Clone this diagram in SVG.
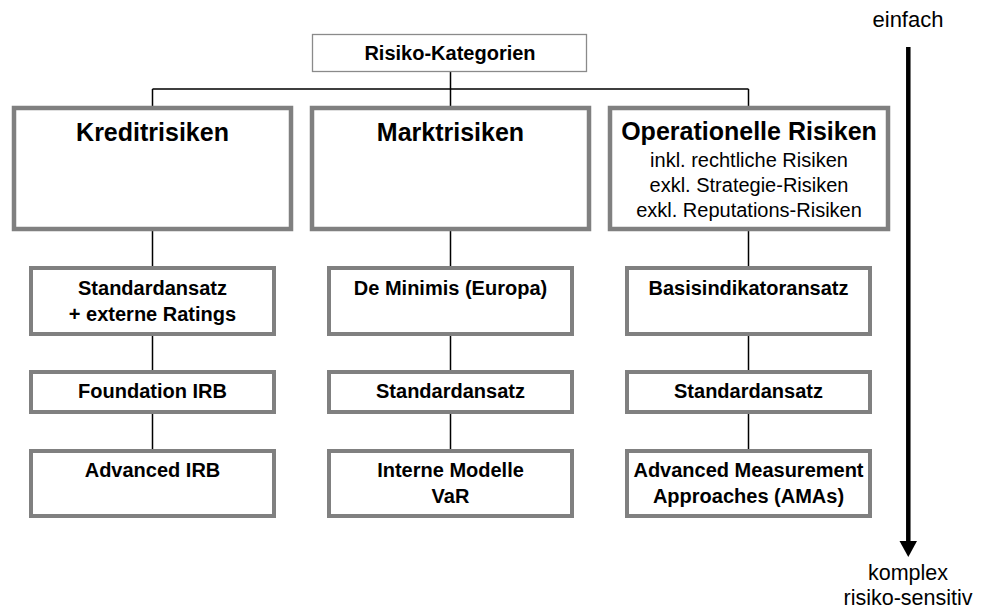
<svg xmlns="http://www.w3.org/2000/svg" width="984" height="610" viewBox="0 0 984 610">
<style>
text { font-family: "Liberation Sans", Arial, sans-serif; fill: #000; text-anchor: middle; }
.t1 { font-size: 25px; font-weight: bold; }
.t2 { font-size: 20px; font-weight: bold; }
.sub { font-size: 20px; }
.lab { font-size: 22px; }
.lab2 { font-size: 21.5px; }
.big { fill: #fff; stroke: #808080; stroke-width: 4.5; }
.sm { fill: #fff; stroke: #808080; stroke-width: 4; }
.top { fill: #fff; stroke: #8a8a8a; stroke-width: 1.3; }
.con { fill: none; stroke: #000; stroke-width: 1.5; }
</style>
<rect width="984" height="610" fill="#fff"/>
<g id="connectors">
<path class="con" d="M450.5 72 V89 M152.5 89 H748.5 M152.5 89 V108 M450.5 89 V108 M748.5 89 V108"/>
<path class="con" d="M152.5 231 V268 M152.5 336 V372 M152.5 414 V451"/>
<path class="con" d="M450.5 231 V268 M450.5 336 V372 M450.5 414 V451"/>
<path class="con" d="M748.5 231 V268 M748.5 336 V372 M748.5 414 V451"/>
</g>
<g id="risiko-kategorien">
<rect class="top" x="312.5" y="34.5" width="274" height="37"/>
<text class="t2" x="450" y="60">Risiko-Kategorien</text>
</g>
<g id="kreditrisiken">
<rect class="big" x="14" y="108" width="277" height="121"/>
<text class="t1" x="152.5" y="141">Kreditrisiken</text>
</g>
<g id="marktrisiken">
<rect class="big" x="312" y="108" width="277" height="121"/>
<text class="t1" x="450.5" y="141">Marktrisiken</text>
</g>
<g id="operationelle-risiken">
<rect class="big" x="610" y="108" width="278" height="121"/>
<text class="t1" x="749" y="140">Operationelle Risiken</text>
<text class="sub" x="749" y="167">inkl. rechtliche Risiken</text>
<text class="sub" x="749" y="192">exkl. Strategie-Risiken</text>
<text class="sub" x="749" y="217">exkl. Reputations-Risiken</text>
</g>
<g id="k-standardansatz">
<rect class="sm" x="31" y="268" width="243" height="66"/>
<text class="t2" x="152.5" y="295">Standardansatz</text>
<text class="t2" x="152.5" y="321">+ externe Ratings</text>
</g>
<g id="k-foundation">
<rect class="sm" x="31" y="372" width="243" height="40"/>
<text class="t2" x="152.5" y="398">Foundation IRB</text>
</g>
<g id="k-advanced">
<rect class="sm" x="31" y="451" width="243" height="65"/>
<text class="t2" x="152.5" y="477">Advanced IRB</text>
</g>
<g id="m-deminimis">
<rect class="sm" x="329" y="268" width="243" height="66"/>
<text class="t2" x="450.5" y="295">De Minimis (Europa)</text>
</g>
<g id="m-standardansatz">
<rect class="sm" x="329" y="372" width="243" height="40"/>
<text class="t2" x="450.5" y="398">Standardansatz</text>
</g>
<g id="m-interne">
<rect class="sm" x="329" y="451" width="243" height="65"/>
<text class="t2" x="450.5" y="477">Interne Modelle</text>
<text class="t2" x="450.5" y="503">VaR</text>
</g>
<g id="o-basis">
<rect class="sm" x="627" y="268" width="243" height="66"/>
<text class="t2" x="748.5" y="295">Basisindikatoransatz</text>
</g>
<g id="o-standardansatz">
<rect class="sm" x="627" y="372" width="243" height="40"/>
<text class="t2" x="748.5" y="398">Standardansatz</text>
</g>
<g id="o-ama">
<rect class="sm" x="627" y="451" width="243" height="65"/>
<text class="t2" x="748.5" y="477">Advanced Measurement</text>
<text class="t2" x="748.5" y="503">Approaches (AMAs)</text>
</g>
<g id="scale">
<text class="lab" x="908" y="27">einfach</text>
<line x1="908.3" y1="47" x2="908.3" y2="542" stroke="#000" stroke-width="4.5"/>
<polygon points="899.5,541 917,541 908.3,557" fill="#000"/>
<text class="lab2" x="908" y="580">komplex</text>
<text class="lab2" x="908" y="605">risiko-sensitiv</text>
</g>
</svg>
